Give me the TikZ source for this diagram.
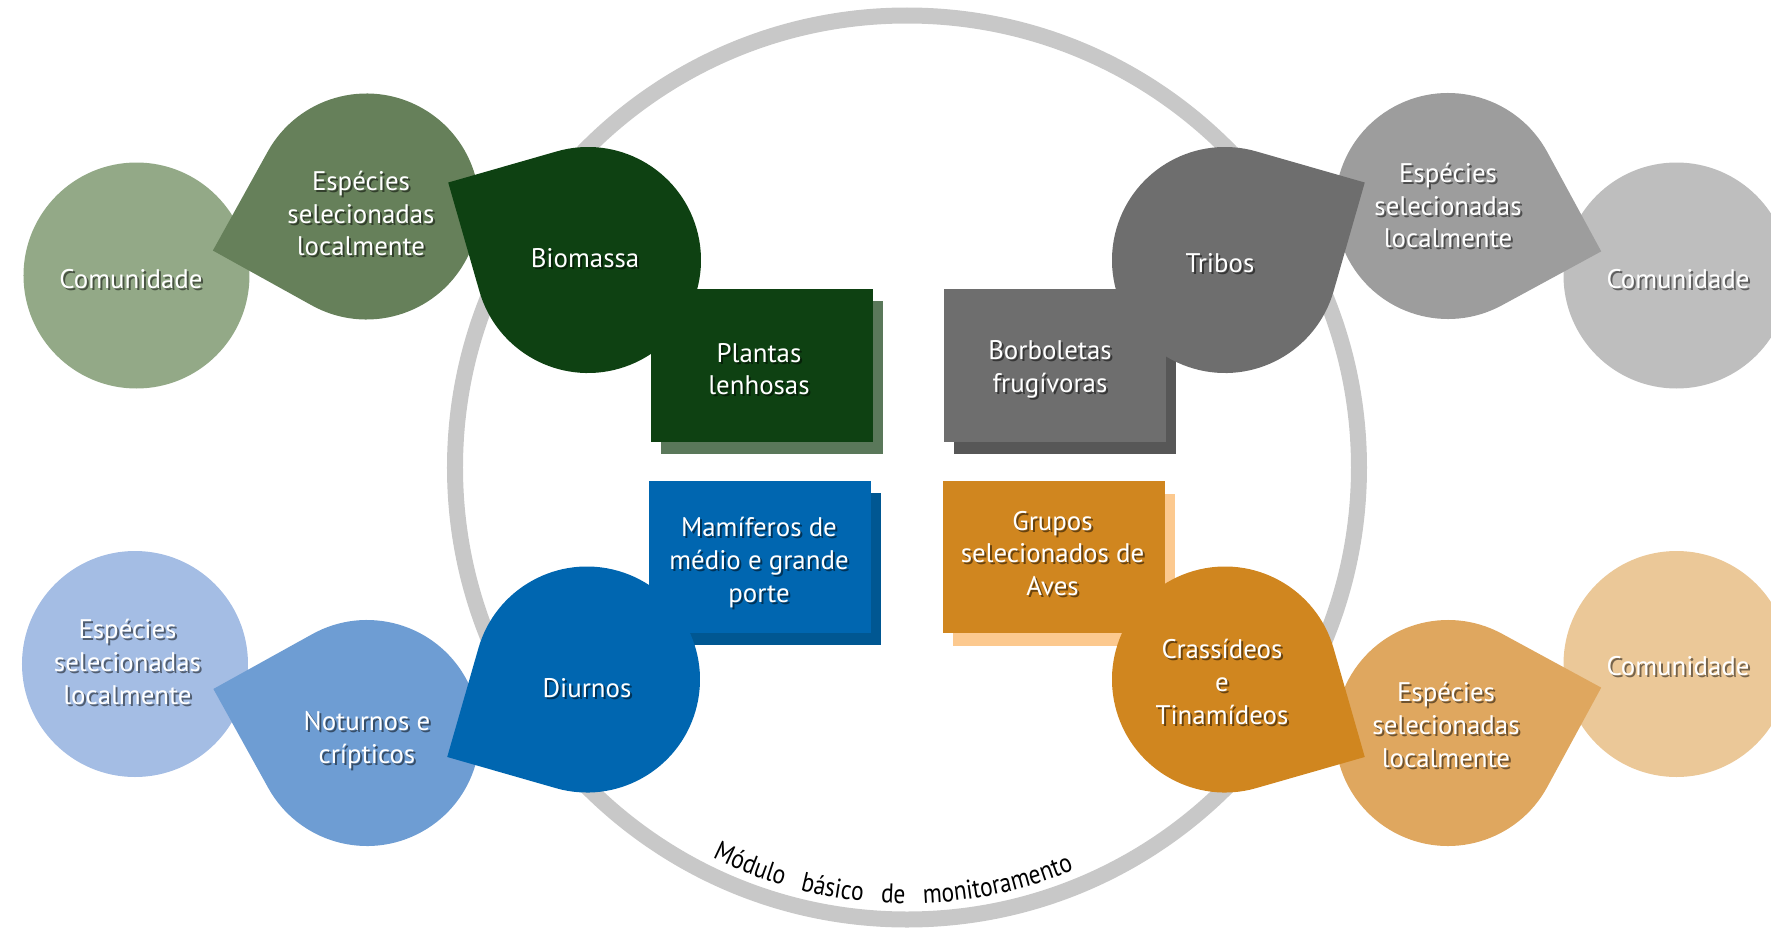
\documentclass[tikz,border=0pt]{standalone}
\usepackage{fontspec}
\setmainfont{PT Sans}
\newfontfamily\ringfam{PT Sans}[FakeStretch=0.86]
\usetikzlibrary{calc,shadows,decorations.text}

\definecolor{ringgray}{HTML}{C8C8C8}
\definecolor{grA}{HTML}{93A987}
\definecolor{grB}{HTML}{66805A}
\definecolor{grC}{HTML}{0E4112}
\definecolor{grS}{HTML}{5A785A}
\definecolor{gyA}{HTML}{BEBEBE}
\definecolor{gyB}{HTML}{9D9D9D}
\definecolor{gyC}{HTML}{6E6E6E}
\definecolor{gyS}{HTML}{575757}
\definecolor{blA}{HTML}{A4BDE4}
\definecolor{blB}{HTML}{6E9DD3}
\definecolor{blC}{HTML}{0066B0}
\definecolor{blS}{HTML}{005792}
\definecolor{orA}{HTML}{EBC898}
\definecolor{orB}{HTML}{DFA75F}
\definecolor{orC}{HTML}{D0861F}
\definecolor{orS}{HTML}{FCC98F}

\newcommand{\lblfont}{\fontsize{15.3}{18.6}\selectfont}
\newcommand{\ringfont}{\ringfam\fontsize{15.5}{18}\selectfont}
% drop shape: centre, angle of the corner, colour
\newcommand{\teardrop}[3]{\fill[#3] (#1) ++(#2+45:2.26) arc[start angle=#2+45, delta angle=270, radius=2.26] -- ($(#1)+(#2:3.196)$) -- cycle;}
% white label with a dark shadow
\newcommand{\shlabel}[3]{\node[lblshadow] (#1-sh) at ($(#2)+(0.04,-0.04)$) {#3};
  \node[lbl] (#1) at (#2) {#3};}

\tikzset{
  lbl/.style={text=white, align=center, font=\lblfont, inner sep=0pt},
  lblshadow/.style={lbl, text=black, opacity=0.5},
  box/.style={rectangle, minimum width=4.44cm, minimum height=3.05cm, inner sep=0pt, fill=#1},
}

\begin{document}
\begin{tikzpicture}
    \useasboundingbox (-18.14,-9.23) rectangle (17.28,9.35);

    \draw [ringgray, line width=0.32cm] (0,0) circle [radius=9.04];
    \path [decorate, decoration={text along path, text={|\ringfont|Módulo básico de monitoramento}, text align={fit to path stretching spaces}}] (243.5:8.72) arc [start angle=243.5, end angle=292.5, radius=8.72];

    \coordinate (comTL) at (-15.41, 3.84);
    \coordinate (espTL) at (-10.81, 5.22);
    \coordinate (bio) at (-6.38, 4.15);
    \coordinate (comTR) at (15.39, 3.84);
    \coordinate (espTR) at (10.82, 5.23);
    \coordinate (tribos) at (6.36, 4.15);
    \coordinate (espBL) at (-15.44, -3.93);
    \coordinate (noturnos) at (-10.8, -5.31);
    \coordinate (diurnos) at (-6.4, -4.24);
    \coordinate (comBR) at (15.39, -3.93);
    \coordinate (espBR) at (10.82, -5.31);
    \coordinate (crass) at (6.36, -4.24);

    % plants
    \fill [grA] (comTL) circle [radius=2.26];
    \teardrop{espTL}{196}{grB}
    \node [box=grC, drop shadow={shadow xshift=0.2cm, shadow yshift=-0.24cm, fill=grS, opacity=1}] (plantas) at (-2.90, 2.04) {};
    \teardrop{bio}{151}{grC}

    % butterflies
    \fill [gyA] (comTR) circle [radius=2.26];
    \teardrop{espTR}{-16.5}{gyB}
    \node [box=gyC, drop shadow={shadow xshift=0.2cm, shadow yshift=-0.24cm, fill=gyS, opacity=1}] (borboletas) at (2.95, 2.04) {};
    \teardrop{tribos}{29}{gyC}

    % mammals
    \fill [blA] (espBL) circle [radius=2.26];
    \teardrop{noturnos}{164}{blB}
    \node [box=blC, drop shadow={shadow xshift=0.2cm, shadow yshift=-0.24cm, fill=blS, opacity=1}] (mamiferos) at (-2.94, -1.79) {};
    \teardrop{diurnos}{209}{blC}

    % birds
    \fill [orA] (comBR) circle [radius=2.26];
    \teardrop{espBR}{16.5}{orB}
    \node [box=orC, drop shadow={shadow xshift=0.2cm, shadow yshift=-0.26cm, fill=orS, opacity=1}] (grupos) at (2.94, -1.79) {};
    \teardrop{crass}{-29}{orC}

    \shlabel{t-comTL}{-15.52, 3.77}{Comunidade}
    \shlabel{t-espTL}{-10.92, 5.08}{Espécies\\selecionadas\\localmente}
    \shlabel{t-bio}{-6.44, 4.18}{Biomassa}
    \shlabel{t-plantas}{-2.96, 1.97}{Plantas\\lenhosas}
    \shlabel{t-tribos}{6.26, 4.09}{Tribos}
    \shlabel{t-borb}{2.86, 1.97}{Borboletas\\frugívoras}
    \shlabel{t-espTR}{10.82, 5.24}{Espécies\\selecionadas\\localmente}
    \shlabel{t-comTR}{15.42, 3.77}{Comunidade}
    \shlabel{t-mam}{-2.96, -1.9}{Mamíferos de\\médio e grande\\porte}
    \shlabel{t-diurnos}{-6.4, -4.41}{Diurnos}
    \shlabel{t-noturnos}{-10.8, -5.45}{Noturnos e\\crípticos}
    \shlabel{t-espBL}{-15.59, -3.89}{Espécies\\selecionadas\\localmente}
    \shlabel{t-grupos}{2.91, -1.72}{Grupos\\selecionados de\\Aves}
    \shlabel{t-crass}{6.3, -4.29}{Crassídeos\\e\\Tinamídeos}
    \shlabel{t-espBR}{10.78, -5.15}{Espécies\\selecionadas\\localmente}
    \shlabel{t-comBR}{15.42, -3.97}{Comunidade}
\end{tikzpicture}
\end{document}
